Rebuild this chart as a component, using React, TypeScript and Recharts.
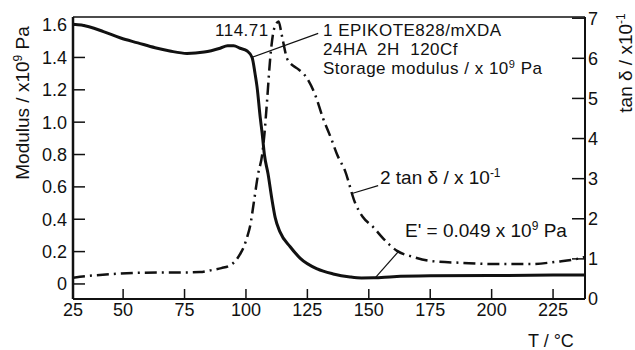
import { LineChart, Line, XAxis, YAxis, ReferenceLine } from 'recharts';

// storage modulus E' (x10^9 Pa)
const modulusTemp = [29.6, 33, 42, 49, 56, 63, 69, 76, 83, 89.5, 92.5, 95, 97.6, 100.5, 102.5, 103.7, 104.5, 105.8, 106.6, 107.5, 109, 110.6, 111.9, 113.9, 118, 122, 129, 135.5, 142.4, 147, 152, 160, 175, 200, 225, 238];
const modulusValue = [1.605, 1.6, 1.56, 1.52, 1.49, 1.46, 1.44, 1.425, 1.433, 1.457, 1.472, 1.472, 1.457, 1.44, 1.4, 1.3, 1.22, 1.03, 0.93, 0.8, 0.68, 0.52, 0.41, 0.32, 0.23, 0.16, 0.093, 0.062, 0.043, 0.037, 0.038, 0.045, 0.05, 0.052, 0.055, 0.056];

// 2 tan delta (x10^-1)
const tanTemp = [29.6, 35, 45, 55, 65, 72, 81.3, 86, 90, 93.5, 96, 97.6, 99, 100.5, 101.7, 103.3, 104.9, 106.6, 107.5, 108.6, 109.8, 111, 112.2, 113.3, 114.5, 116.7, 118.5, 120.8, 124.9, 128.1, 131.4, 135, 137.1, 140.3, 144.4, 147.5, 151.7, 156, 161.5, 168, 174.9, 188.4, 202.2, 215.6, 226.6, 234.8, 238];
const tanValue = [0.53, 0.57, 0.62, 0.65, 0.66, 0.66, 0.67, 0.72, 0.77, 0.84, 0.97, 1.12, 1.28, 1.55, 1.82, 2.45, 3.1, 3.6, 4.1, 4.95, 5.95, 6.6, 6.85, 6.92, 6.6, 6.0, 5.85, 5.75, 5.5, 5.1, 4.5, 3.95, 3.6, 3.2, 2.4, 2.05, 1.8, 1.5, 1.2, 1.05, 0.95, 0.9, 0.87, 0.87, 0.93, 1.0, 1.05];

const xTicks = [29.6, 50, 75, 100, 125, 150, 175, 200, 225];
const xTickLabels = ['25', '50', '75', '100', '125', '150', '175', '200', '225'];
const modTicks = [0, 0.2, 0.4, 0.6, 0.8, 1.0, 1.2, 1.4, 1.6];
const tanTicks = [0, 1, 2, 3, 4, 5, 6, 7];

const modulusData = modulusTemp.map((t, i) => ({ t, v: modulusValue[i] }));
const tanData = tanTemp.map((t, i) => ({ t, v: tanValue[i] }));

const FONT = "'Liberation Sans', Arial, sans-serif";
const INK = '#111';
const tickStyle = { fontSize: 18, fill: INK, fontFamily: FONT };

export default function App() {
  return (
    <div style={{ position: 'absolute', left: 0, top: 0, width: 635, height: 350, background: '#fff' }}>
      <LineChart width={635} height={350} margin={{ top: 17, right: 0, bottom: 0, left: 0 }}>
        <XAxis
          dataKey="t"
          type="number"
          domain={[29.6, 238]}
          allowDataOverflow
          ticks={xTicks}
          tickFormatter={(v, i) => xTickLabels[i] ?? String(v)}
          tick={tickStyle}
          tickSize={-10}
          tickMargin={14}
          height={51}
          axisLine={{ stroke: INK, strokeWidth: 2 }}
          tickLine={{ stroke: INK, strokeWidth: 1.5 }}
        />
        <YAxis
          yAxisId="mod"
          type="number"
          domain={[-0.093, 1.65]}
          allowDataOverflow
          ticks={modTicks}
          tickFormatter={(v) => (v === 0 ? '0' : v.toFixed(1))}
          tick={tickStyle}
          tickSize={-12}
          tickMargin={18}
          width={73}
          axisLine={{ stroke: INK, strokeWidth: 2.5 }}
          tickLine={{ stroke: INK, strokeWidth: 1.5 }}
        />
        <YAxis
          yAxisId="tan"
          orientation="right"
          type="number"
          domain={[0, 7.03]}
          allowDataOverflow
          ticks={tanTicks}
          tick={tickStyle}
          tickSize={-13}
          tickMargin={16}
          width={50}
          axisLine={{ stroke: INK, strokeWidth: 2 }}
          tickLine={{ stroke: INK, strokeWidth: 1.5 }}
        />
        <ReferenceLine yAxisId="tan" y={7.03} stroke={INK} strokeWidth={1.5} />
        {/* leader lines */}
        <ReferenceLine yAxisId="mod" segment={[{ x: 129.4, y: 1.549 }, { x: 102.5, y: 1.401 }]} stroke={INK} strokeWidth={1.2} ifOverflow="visible" />
        <ReferenceLine yAxisId="tan" segment={[{ x: 153.8, y: 2.825 }, { x: 142.8, y: 2.625 }]} stroke={INK} strokeWidth={1.2} ifOverflow="visible" />
        <ReferenceLine yAxisId="tan" segment={[{ x: 162.3, y: 1.2 }, { x: 152.6, y: 0.525 }]} stroke={INK} strokeWidth={1.2} ifOverflow="visible" />
        <Line
          yAxisId="mod"
          data={modulusData}
          dataKey="v"
          type="monotone"
          stroke={INK}
          strokeWidth={3}
          dot={false}
          isAnimationActive={false}
        />
        <Line
          yAxisId="tan"
          data={tanData}
          dataKey="v"
          type="monotone"
          stroke={INK}
          strokeWidth={2.5}
          strokeDasharray="12 5 2 5"
          dot={false}
          isAnimationActive={false}
        />
      </LineChart>
      <svg width={635} height={350} style={{ position: 'absolute', left: 0, top: 0, pointerEvents: 'none' }}>
        <g fontFamily={FONT} fill={INK} fontSize={19}>
          <g fontSize={17} letterSpacing={0.5}>
            <text x={215} y={35.5}>114.71</text>
            <text x={323} y={35.5}>1 EPIKOTE828/mXDA</text>
            <text x={323} y={54.5} style={{ whiteSpace: 'pre' }}>24HA  2H  120Cf</text>
            <text x={323} y={73.5}>
              Storage modulus / x 10<tspan dy={-6} fontSize={11}>9</tspan><tspan dy={6}> Pa</tspan>
            </text>
          </g>
          <text x={380} y={184}>
            2 tan δ / x 10<tspan dy={-7} fontSize={12}>-1</tspan>
          </text>
          <text x={405} y={237}>
            E' = 0.049 x 10<tspan dy={-7} fontSize={12}>9</tspan><tspan dy={7}> Pa</tspan>
          </text>
          <text x={528} y={347} fontSize={18}>T / °C</text>
          <text transform="translate(29,103) rotate(-90)" textAnchor="middle">
            Modulus / x10<tspan dy={-7} fontSize={12}>9</tspan><tspan dy={7}> Pa</tspan>
          </text>
          <text transform="translate(632,63) rotate(-90)" textAnchor="middle">
            tan δ / x10<tspan dy={-7} fontSize={12}>-1</tspan>
          </text>
        </g>
      </svg>
    </div>
  );
}
